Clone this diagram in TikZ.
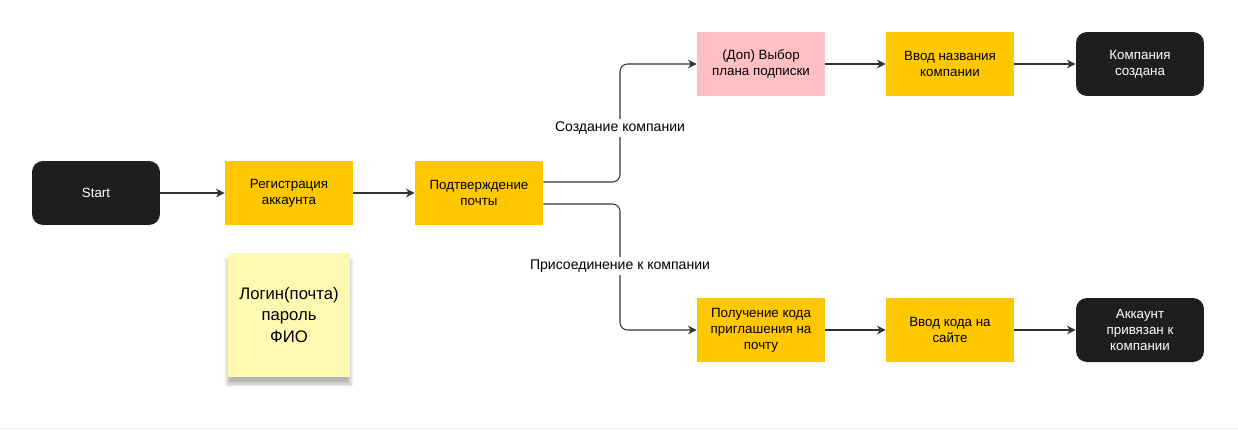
\documentclass[tikz,border=0pt]{standalone}
\usepackage{fontspec}
\setmainfont{Liberation Sans}
\usetikzlibrary{arrows.meta,shadows.blur}
\definecolor{yel}{HTML}{FFC800}
\definecolor{pnk}{HTML}{FFC0C4}
\definecolor{stk}{HTML}{FFF9B1}
\definecolor{blk}{HTML}{1E1E1E}
\begin{document}
\begin{tikzpicture}[x=0.02cm,y=-0.02cm,
  box/.style={minimum width=2.56cm,minimum height=1.28cm,align=center,font=\fontsize{7.6}{9}\selectfont,inner sep=1pt},
  ybox/.style={box,fill=yel},
  pbox/.style={box,fill=pnk},
  kbox/.style={box,fill=blk,text=white,rounded corners=0.22cm},
  conn/.style={draw=black!80,line width=0.6pt,-{Stealth[length=5pt,width=5pt]},rounded corners=0.15cm},
  lbl/.style={fill=white,font=\fontsize{8}{10}\selectfont,inner sep=1.5pt}]
\useasboundingbox (0,0) rectangle (1238,430);
\draw[black!8] (0,428) -- (1238,428);
\node[kbox] (start) at (96,193) {Start};
\node[ybox] (reg) at (289,193) {Регистрация\\аккаунта};
\node[ybox] (conf) at (479,193) {Подтверждение\\почты};
\node[pbox] (plan) at (761,64) {(Доп) Выбор\\плана подписки};
\node[ybox] (name) at (950,64) {Ввод названия\\компании};
\node[kbox] (made) at (1140,64) {Компания\\создана};
\node[ybox] (code) at (761,330) {Получение кода\\приглашения на\\почту};
\node[ybox] (site) at (950,330) {Ввод кода на\\сайте};
\node[kbox] (bound) at (1140,330) {Аккаунт\\привязан к\\компании};
\node[fill=stk,minimum width=2.46cm,minimum height=2.48cm,align=center,
  font=\fontsize{9.5}{12}\selectfont,blur shadow={shadow xshift=0pt,shadow yshift=-4pt,shadow blur steps=6,shadow opacity=30}] (note) at (289,315) {Логин(почта)\\пароль\\ФИО};
\draw[conn] (start) -- (reg);
\draw[conn] (reg) -- (conf);
\coordinate (c1) at (620,182);
\coordinate (c2) at (620,204);
\draw[conn] (conf.east |- c1) -- (c1) |- (plan.west);
\draw[conn] (conf.east |- c2) -- (c2) |- (code.west);
\draw[conn] (plan) -- (name);
\draw[conn] (name) -- (made);
\draw[conn] (code) -- (site);
\draw[conn] (site) -- (bound);
\node[lbl] (l1) at (620,128) {Создание компании};
\node[lbl] (l2) at (620,266) {Присоединение к компании};
\end{tikzpicture}
\end{document}
